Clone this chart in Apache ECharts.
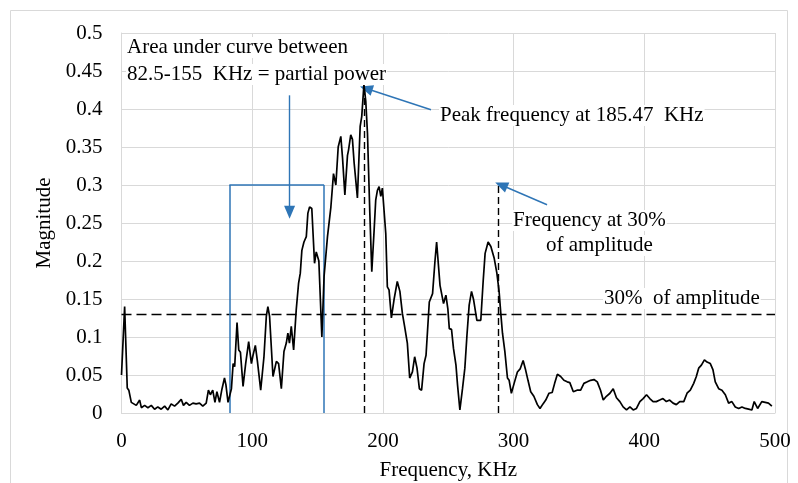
<!DOCTYPE html>
<html>
<head>
<meta charset="utf-8">
<script src="https://cdn.jsdelivr.net/npm/echarts@6/dist/echarts.min.js"></script>
<style>html,body{margin:0;padding:0;background:#fff}#c{width:798px;height:483px}</style>
</head>
<body>
<div id="c"></div>
<script>
const freq = [0,2.4,4.4,5.6,7.5,8.8,11.3,13.9,15.2,17.7,20.2,22.8,25.3,27.8,30.4,33,35.5,38,40.6,43.1,45.7,47.4,49.5,52,54.6,57.1,59.7,62.2,64.8,66.5,68,69.8,71.5,73,75,76.8,78.8,79.9,81.5,84.1,85.4,86.6,88.4,89.7,91,93,95,97.3,99.4,100.5,102.4,104,106.5,109,110.8,112,113.3,115.9,118.5,120.2,122.3,124.3,126.1,127.3,128.5,129.9,131.7,133.7,135.5,136.8,138,139.6,141.4,142.6,143.9,145.6,147.7,149,151,153.3,155,157.6,160.2,162.2,164,165.8,167.8,169.1,170.9,172.9,173.7,175.4,176.7,178,180.5,182.6,183.8,185.5,186.9,188.2,190,191.5,193.3,194.5,195.8,197.1,198.4,199.6,202.2,203.4,204.7,206.5,208.5,211,213,214.9,216.6,218.7,220.5,222.6,224.3,226.1,227.9,229.6,231.5,233,235.5,238,239.8,241.1,243.7,246.4,248.2,249.7,250.8,252.5,254,255.9,257.1,258.9,260.9,262.7,264.3,266,267.8,269.4,271.9,274.9,276.7,278.2,280.5,282.6,285.1,287.2,288.9,290.2,291.5,293.3,295.3,296.6,298.3,300.4,302.9,305,307.3,309,311,313.1,315.5,318.2,320.2,322.5,324.6,327.1,329.5,331.4,333.5,336,338.5,341,343,345.7,348.5,351.3,353.8,356.4,358.9,361.5,364,366.5,368.6,371,373.7,376.2,378.7,381.3,383.8,386.4,389,391.5,394,396.6,399.1,401.7,404.2,406.7,409.2,411.8,414.3,416.9,419.4,422,424.5,427.1,430.2,432.7,435.2,437.8,439.8,441.6,443.7,446,448,450.5,452.5,454.3,456.9,459.4,462,464.5,467,469.6,472.2,474.7,477.3,479.8,482.3,484.1,486.7,489.9,492.5,495,497.6];
const magnitude = [0.05,0.14,0.033,0.03,0.014,0.016,0.01,0.017,0.007,0.01,0.007,0.01,0.005,0.008,0.005,0.009,0.004,0.012,0.009,0.013,0.018,0.01,0.014,0.01,0.013,0.012,0.013,0.009,0.013,0.03,0.024,0.03,0.014,0.028,0.014,0.031,0.046,0.037,0.014,0.032,0.065,0.061,0.119,0.083,0.08,0.035,0.065,0.094,0.065,0.075,0.089,0.068,0.03,0.074,0.127,0.14,0.127,0.048,0.068,0.065,0.032,0.081,0.092,0.105,0.092,0.114,0.083,0.136,0.171,0.184,0.214,0.225,0.232,0.263,0.271,0.269,0.197,0.212,0.2,0.1,0.18,0.232,0.271,0.315,0.3,0.35,0.364,0.336,0.287,0.339,0.346,0.366,0.36,0.329,0.283,0.377,0.39,0.432,0.41,0.368,0.263,0.186,0.241,0.28,0.293,0.298,0.285,0.296,0.236,0.166,0.162,0.125,0.149,0.173,0.16,0.131,0.114,0.092,0.046,0.054,0.074,0.059,0.032,0.03,0.065,0.076,0.146,0.157,0.199,0.225,0.168,0.144,0.155,0.137,0.111,0.11,0.085,0.063,0.037,0.004,0.032,0.059,0.102,0.142,0.16,0.149,0.122,0.122,0.173,0.21,0.225,0.219,0.204,0.184,0.16,0.131,0.105,0.081,0.046,0.043,0.026,0.039,0.054,0.058,0.069,0.058,0.043,0.028,0.022,0.011,0.006,0.012,0.017,0.026,0.027,0.039,0.051,0.048,0.043,0.041,0.04,0.028,0.03,0.03,0.039,0.041,0.043,0.044,0.041,0.03,0.017,0.022,0.026,0.032,0.02,0.015,0.008,0.004,0.008,0.004,0.006,0.015,0.019,0.024,0.019,0.015,0.015,0.017,0.019,0.015,0.017,0.013,0.011,0.015,0.015,0.026,0.03,0.039,0.048,0.059,0.063,0.07,0.067,0.065,0.057,0.041,0.032,0.03,0.024,0.013,0.015,0.008,0.006,0.008,0.006,0.005,0.004,0.015,0.006,0.015,0.014,0.013,0.009];
const xTicks = [0,100,200,300,400,500];
const yTicks = [0,0.05,0.1,0.15,0.2,0.25,0.3,0.35,0.4,0.45,0.5];
const bandStart = 82.5, bandEnd = 155, bandTop = 0.3;
const peakFreq = 185.47, peakTop = 0.429;
const freq30 = 288.2, level30 = 0.13;

const serif = '"Liberation Serif","Times New Roman",serif';
const blue = '#2E75B6';
const FS = 21;
const chart = echarts.init(document.getElementById('c'));
const pts = freq.map((f,i)=>[f,magnitude[i]]);
const seg = (a,b,extra)=>[Object.assign({coord:a},extra||{}),{coord:b}];
const note = (x,y,t)=>({type:'text',left:x,top:y,z:50,style:{text:t,font:FS+'px '+serif,fill:'#000',backgroundColor:'#fff',padding:[0,1]}});

chart.setOption({
  animation:false,
  backgroundColor:'#fff',
  grid:{left:121.5,right:23,top:33,bottom:70,containLabel:false,outerBoundsMode:'none'},
  xAxis:{type:'value',min:xTicks[0],max:xTicks[xTicks.length-1],interval:100,
    name:'Frequency, KHz',nameLocation:'middle',nameGap:47,
    nameTextStyle:{fontFamily:serif,fontSize:FS,color:'#000'},
    axisLine:{show:true,lineStyle:{color:'#d9d9d9',width:1}},axisTick:{show:false},
    axisLabel:{fontFamily:serif,fontSize:FS,color:'#000',margin:18},
    splitLine:{show:true,lineStyle:{color:'#d9d9d9',width:1}}},
  yAxis:{type:'value',min:yTicks[0],max:yTicks[yTicks.length-1],interval:0.05,
    name:'Magnitude',nameLocation:'middle',nameGap:63,
    nameTextStyle:{fontFamily:serif,fontSize:FS,color:'#000'},
    axisLine:{show:true,lineStyle:{color:'#d9d9d9',width:1}},axisTick:{show:false},
    axisLabel:{fontFamily:serif,fontSize:FS,color:'#000',margin:19,formatter:v=>String(+v.toFixed(2))},
    splitLine:{show:true,lineStyle:{color:'#d9d9d9',width:1}}},
  series:[{
    type:'line',data:pts,showSymbol:false,symbol:'none',
    lineStyle:{color:'#000',width:1.7},z:5,
    markLine:{silent:true,symbol:['none','none'],animation:false,
      label:{show:false},
      data:[
        seg([0,level30],[500,level30],{lineStyle:{color:'#000',type:[10,5],width:1.4}}),
        seg([peakFreq,0],[peakFreq,peakTop],{lineStyle:{color:'#000',type:[7,4],width:1.4}}),
        seg([freq30,0],[freq30,bandTop],{lineStyle:{color:'#000',type:[7,4],width:1.4}}),
        seg([bandStart,0],[bandStart,bandTop],{lineStyle:{color:blue,type:'solid',width:1.5}}),
        seg([bandStart,bandTop],[bandEnd,bandTop],{lineStyle:{color:blue,type:'solid',width:1.5}}),
        seg([bandEnd,bandTop],[bandEnd,0],{lineStyle:{color:blue,type:'solid',width:1.5}})
      ]}
  },{
    type:'line',data:[],
    markLine:{silent:true,animation:false,symbol:['none','triangle'],symbolSize:[11,13],
      label:{show:false},
      lineStyle:{color:blue,type:'solid',width:1.4},
      data:[
        seg([128.6,0.418],[128.6,0.264]),
        seg([236.8,0.399],[187.2,0.427]),
        seg([325.6,0.274],[290.5,0.3])
      ]}
  }],
  graphic:[
    {type:'rect',shape:{x:10.5,y:10.5,width:777,height:490},style:{fill:'none',stroke:'#d9d9d9',lineWidth:1},z:-1},
    note(126,37,'Area under curve between'),
    note(126,64,'82.5-155  KHz = partial power'),
    note(439,105,'Peak frequency at 185.47  KHz'),
    note(512,210,'Frequency at 30%'),
    note(545,235,'of amplitude'),
    note(603,288,'30%  of amplitude')
  ]
});
</script>
</body>
</html>
